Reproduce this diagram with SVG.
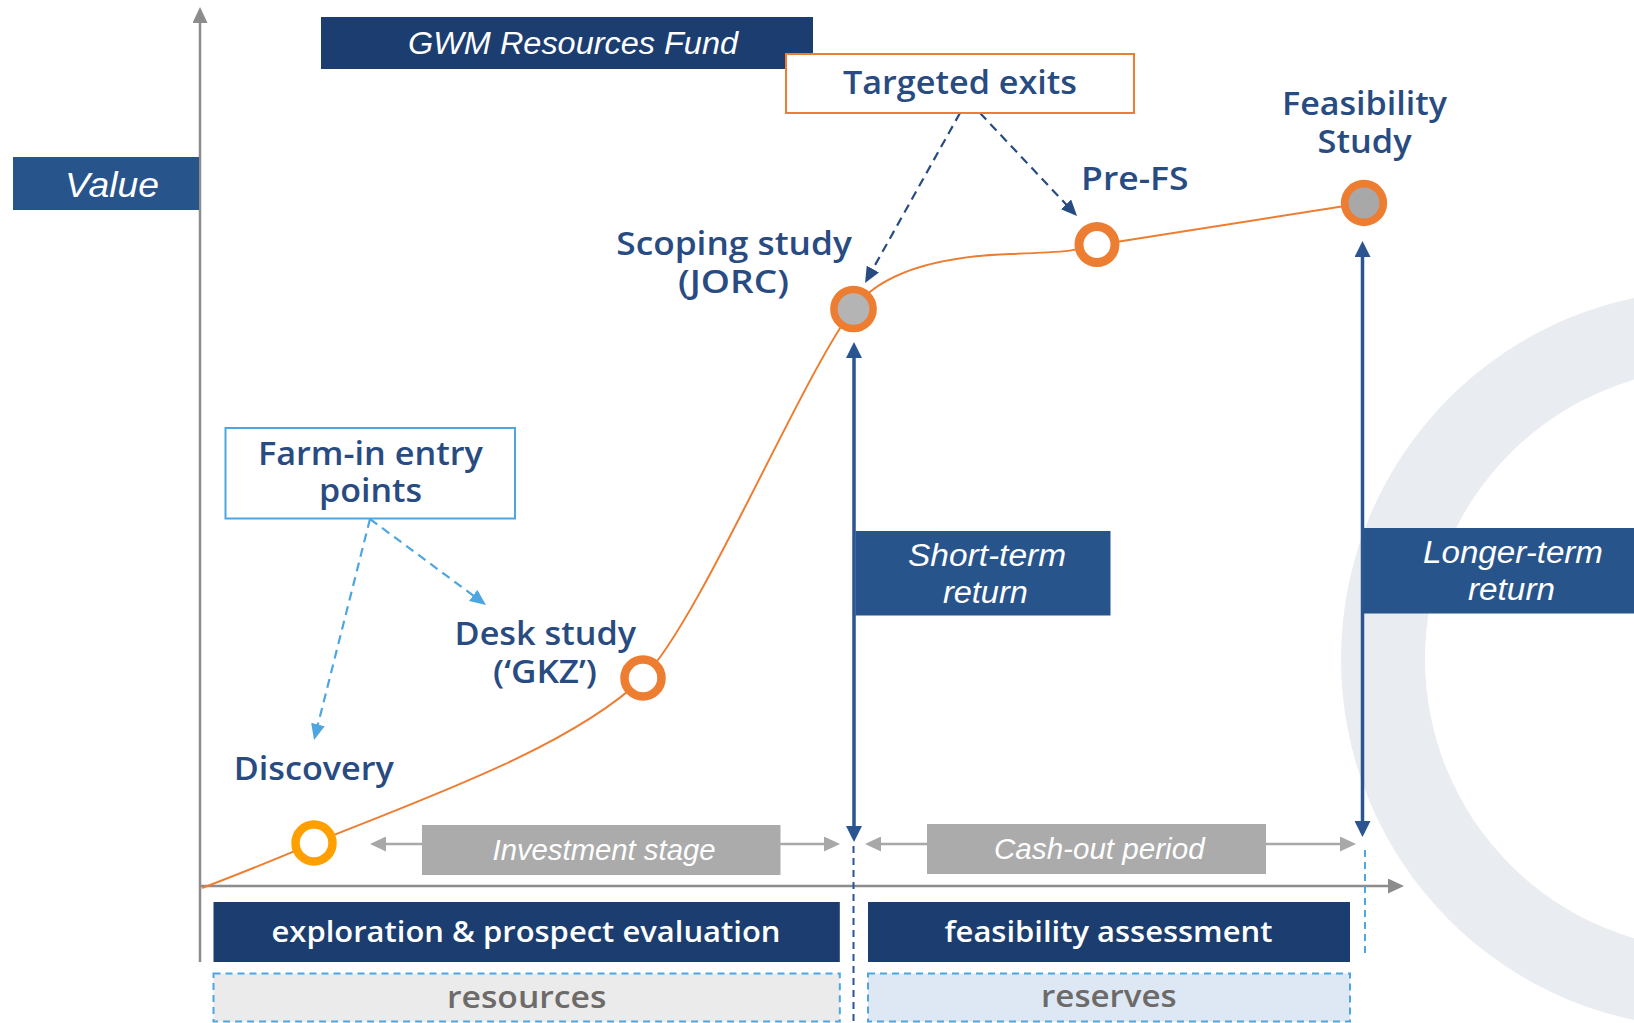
<svg xmlns="http://www.w3.org/2000/svg" width="1634" height="1023" viewBox="0 0 1634 1023">
  <defs>
    <style>
      .lbl { font-family: "Open Sans", "Noto Sans", sans-serif; font-weight: 600; font-size: 32px; fill: #284b82; text-anchor: middle; }
      .band { font-family: "Open Sans", "Noto Sans", sans-serif; font-weight: 600; font-size: 29px; fill: #ffffff; text-anchor: middle; }
      .class { font-family: "Open Sans", "Noto Sans", sans-serif; font-weight: 600; font-size: 30px; fill: #6d6a6a; text-anchor: middle; }
      .tag { font-family: "Liberation Sans", Arial, sans-serif; font-style: italic; fill: #ffffff; text-anchor: middle; }
      .axis { stroke: #8c8c8c; stroke-width: 2.5; fill: none; }
      .span { stroke: #a8a8a8; stroke-width: 2.5; fill: none; }
      .ret { stroke: #2a5590; stroke-width: 3.5; fill: none; }
      .exit { stroke: #284b82; stroke-width: 2.2; stroke-dasharray: 9 6; fill: none; }
      .entry { stroke: #4da6df; stroke-width: 2.2; stroke-dasharray: 9 6; fill: none; }
      .guide-navy { stroke: #2a5590; stroke-width: 2; stroke-dasharray: 7 5; fill: none; }
      .guide-blue { stroke: #4da6df; stroke-width: 2; stroke-dasharray: 7 5; fill: none; }
      .curve { stroke: #ed7d31; stroke-width: 2; fill: none; }
      .dark { fill: #1b3d6f; }
      .mid { fill: #28548c; }
      .grey { fill: #ababab; }
      .ring { stroke-width: 8.5; }
    </style>
    <marker id="m-ret" viewBox="0 0 16 16" refX="12" refY="8" markerWidth="16" markerHeight="16" markerUnits="userSpaceOnUse" orient="auto-start-reverse">
      <path d="M0,0 L16,8 L0,16 Z" fill="#2a5590"/>
    </marker>
    <marker id="m-span" viewBox="0 0 16 16" refX="12" refY="8" markerWidth="16" markerHeight="15" markerUnits="userSpaceOnUse" orient="auto-start-reverse" preserveAspectRatio="none">
      <path d="M0,0 L16,8 L0,16 Z" fill="#a8a8a8"/>
    </marker>
    <marker id="m-axis" viewBox="0 0 16 16" refX="12" refY="8" markerWidth="16" markerHeight="15" markerUnits="userSpaceOnUse" orient="auto" preserveAspectRatio="none">
      <path d="M0,0 L16,8 L0,16 Z" fill="#8c8c8c"/>
    </marker>
    <marker id="m-exit" viewBox="0 0 16 16" refX="12" refY="8" markerWidth="16" markerHeight="14" markerUnits="userSpaceOnUse" orient="auto" preserveAspectRatio="none">
      <path d="M0,0 L16,8 L0,16 Z" fill="#284b82"/>
    </marker>
    <marker id="m-entry" viewBox="0 0 16 16" refX="12" refY="8" markerWidth="16" markerHeight="14" markerUnits="userSpaceOnUse" orient="auto" preserveAspectRatio="none">
      <path d="M0,0 L16,8 L0,16 Z" fill="#4da6df"/>
    </marker>
  </defs>

  <rect width="1634" height="1023" fill="#ffffff"/>

  <!-- decorative ring on the right -->
  <path fill="#e9ecf1" fill-rule="evenodd" d="M1341,659 a369,369 0 1,0 738,0 a369,369 0 1,0 -738,0 Z M1425,659 a291,291 0 1,0 582,0 a291,291 0 1,0 -582,0 Z"/>

  <g id="connectors">
    <!-- axes -->
    <line class="axis" x1="200" y1="962" x2="200" y2="11" marker-end="url(#m-axis)"/>
    <line class="axis" x1="200" y1="886" x2="1400" y2="886" marker-end="url(#m-axis)"/>
    <!-- phase guides -->
    <line class="guide-navy" x1="853.5" y1="846" x2="853.5" y2="1023"/>
    <line class="guide-blue" x1="1365" y1="850" x2="1365" y2="956"/>
    <!-- value curve -->
    <path class="curve" d="M202,888 C240,874 290,853 314,843 C420,800 570,748 643,678 C700,620 800,380 853,309 C885,267 950,256 1010,254 C1070,252 1080,250 1097,245 L1364,203"/>
    <!-- return spans -->
    <line class="ret" x1="854" y1="346" x2="854" y2="838" marker-start="url(#m-ret)" marker-end="url(#m-ret)"/>
    <line class="ret" x1="1362.5" y1="245" x2="1362.5" y2="833" marker-start="url(#m-ret)" marker-end="url(#m-ret)"/>
    <!-- period spans -->
    <line class="span" x1="374" y1="844" x2="836" y2="844" marker-start="url(#m-span)" marker-end="url(#m-span)"/>
    <line class="span" x1="869" y1="844" x2="1352" y2="844" marker-start="url(#m-span)" marker-end="url(#m-span)"/>
    <!-- targeted exits -->
    <line class="exit" x1="960" y1="113" x2="867" y2="279.5" marker-end="url(#m-exit)"/>
    <line class="exit" x1="980" y1="113" x2="1074.3" y2="213.1" marker-end="url(#m-exit)"/>
    <!-- farm-in entry points -->
    <line class="entry" x1="370" y1="519" x2="315" y2="736.1" marker-end="url(#m-entry)"/>
    <line class="entry" x1="370" y1="519" x2="482.8" y2="602.6" marker-end="url(#m-entry)"/>
  </g>

  <g id="value-label">
    <rect class="mid" x="13" y="157" width="186" height="53"/>
    <text class="tag" x="112" y="197" font-size="35" textLength="94" lengthAdjust="spacingAndGlyphs">Value</text>
  </g>

  <g id="fund-label">
    <rect class="dark" x="321" y="17" width="492" height="52"/>
    <text class="tag" x="573" y="54" font-size="31" textLength="330" lengthAdjust="spacingAndGlyphs">GWM Resources Fund</text>
  </g>

  <g id="targeted-exits">
    <rect x="786" y="54" width="348" height="59" fill="#ffffff" stroke="#ed7d31" stroke-width="2"/>
    <text class="lbl" x="960" y="94" textLength="234" lengthAdjust="spacingAndGlyphs">Targeted exits</text>
  </g>

  <g id="farm-in">
    <rect x="225.5" y="428" width="289.5" height="90.5" fill="#ffffff" stroke="#4da6df" stroke-width="2"/>
    <text class="lbl" x="370.4" y="465" textLength="225" lengthAdjust="spacingAndGlyphs">Farm-in entry</text>
    <text class="lbl" x="370.5" y="501.7" textLength="103" lengthAdjust="spacingAndGlyphs">points</text>
  </g>

  <g id="discovery">
    <circle class="ring" cx="314" cy="843" r="18.5" fill="#ffffff" stroke="#ffa000"/>
    <text class="lbl" x="313.8" y="780" textLength="160" lengthAdjust="spacingAndGlyphs">Discovery</text>
  </g>

  <g id="desk-study">
    <circle class="ring" cx="643" cy="678" r="18.5" fill="#ffffff" stroke="#ed7d31"/>
    <text class="lbl" x="545.3" y="645" textLength="181.5" lengthAdjust="spacingAndGlyphs">Desk study</text>
    <text class="lbl" x="545" y="683" textLength="104" lengthAdjust="spacingAndGlyphs">(‘GKZ’)</text>
  </g>

  <g id="scoping-study">
    <circle cx="853.5" cy="309" r="19.6" fill="#b4b4b4" stroke="#ed7d31" stroke-width="7.5"/>
    <text class="lbl" x="734" y="255" textLength="235.5" lengthAdjust="spacingAndGlyphs">Scoping study</text>
    <text class="lbl" x="733.5" y="293" textLength="111" lengthAdjust="spacingAndGlyphs">(JORC)</text>
  </g>

  <g id="pre-fs">
    <circle cx="1097" cy="244.5" r="18" fill="#ffffff" stroke="#ed7d31" stroke-width="9"/>
    <text class="lbl" x="1134.8" y="190" textLength="107.5" lengthAdjust="spacingAndGlyphs">Pre-FS</text>
  </g>

  <g id="feasibility-study">
    <circle cx="1364" cy="203" r="19.3" fill="#a8a8a8" stroke="#ed7d31" stroke-width="7.7"/>
    <text class="lbl" x="1364.5" y="115" textLength="165" lengthAdjust="spacingAndGlyphs">Feasibility</text>
    <text class="lbl" x="1364.6" y="153" textLength="94" lengthAdjust="spacingAndGlyphs">Study</text>
  </g>

  <g id="short-term-return">
    <rect class="mid" x="855.5" y="531" width="255" height="84.5"/>
    <text class="tag" x="987" y="566" font-size="31" textLength="158" lengthAdjust="spacingAndGlyphs">Short-term</text>
    <text class="tag" x="985.4" y="602.7" font-size="31" textLength="85" lengthAdjust="spacingAndGlyphs">return</text>
  </g>

  <g id="longer-term-return">
    <rect class="mid" x="1364" y="528" width="270" height="85.5"/>
    <text class="tag" x="1513" y="563.3" font-size="31" textLength="180" lengthAdjust="spacingAndGlyphs">Longer-term</text>
    <text class="tag" x="1511.5" y="600" font-size="31" textLength="87" lengthAdjust="spacingAndGlyphs">return</text>
  </g>

  <g id="investment-stage">
    <rect class="grey" x="422" y="825" width="358.5" height="50"/>
    <text class="tag" x="604" y="860" font-size="29" textLength="223" lengthAdjust="spacingAndGlyphs">Investment stage</text>
  </g>

  <g id="cash-out-period">
    <rect class="grey" x="927" y="824" width="339" height="50"/>
    <text class="tag" x="1099.3" y="859.3" font-size="29" textLength="210.6" lengthAdjust="spacingAndGlyphs">Cash-out period</text>
  </g>

  <g id="exploration">
    <rect class="dark" x="213.5" y="902" width="626.3" height="60"/>
    <text class="band" x="526" y="941.7" textLength="509" lengthAdjust="spacingAndGlyphs">exploration &amp; prospect evaluation</text>
  </g>

  <g id="feasibility-assessment">
    <rect class="dark" x="868" y="902" width="482" height="60"/>
    <text class="band" x="1108.4" y="941.7" textLength="328" lengthAdjust="spacingAndGlyphs">feasibility assessment</text>
  </g>

  <g id="resources">
    <rect x="213.5" y="973.5" width="626.3" height="48" fill="#ebebeb" stroke="#4da6df" stroke-width="2" stroke-dasharray="7 5"/>
    <text class="class" x="526.7" y="1008.3" textLength="159.3" lengthAdjust="spacingAndGlyphs">resources</text>
  </g>

  <g id="reserves">
    <rect x="868" y="973.5" width="482" height="48" fill="#dde8f4" stroke="#4da6df" stroke-width="2" stroke-dasharray="7 5"/>
    <text class="class" x="1108.9" y="1006.7" textLength="135.7" lengthAdjust="spacingAndGlyphs">reserves</text>
  </g>
</svg>
